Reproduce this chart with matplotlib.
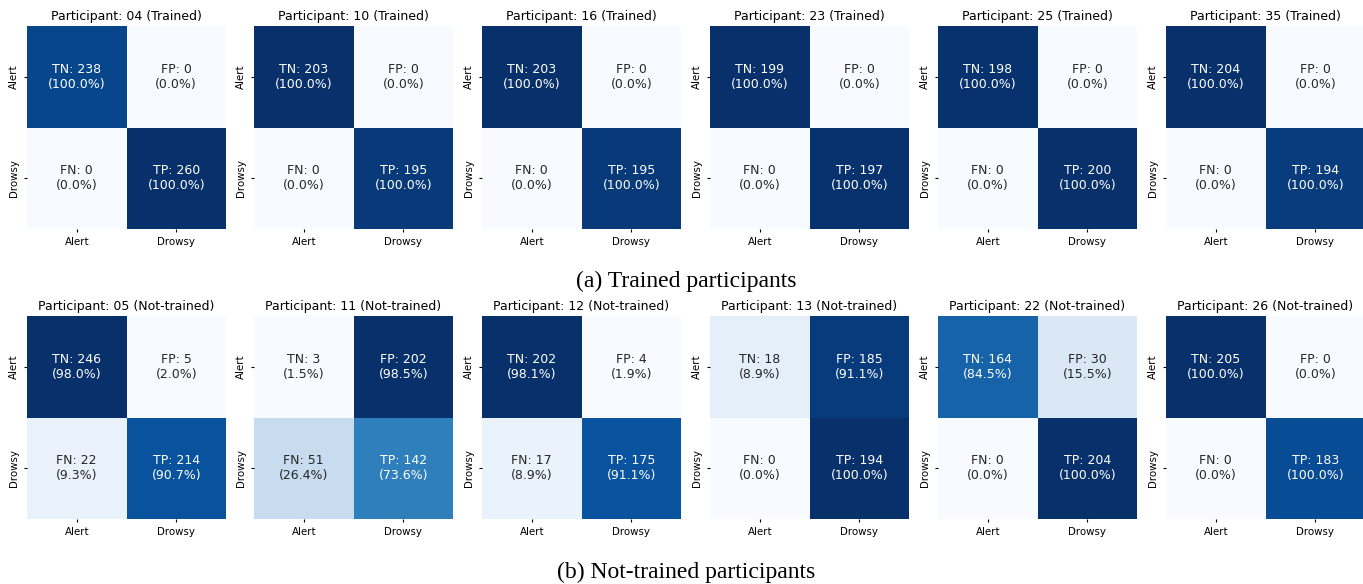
"""
Confusion matrices per participant (trained / not-trained)
"""

import numpy as np
import matplotlib
matplotlib.use("Agg")
import matplotlib.pyplot as plt
import seaborn as sns

plt.close("all")

"""
Data:
"""
labels = ["Alert", "Drowsy"]

trained_ids = ["04", "10", "16", "23", "25", "35"]
trained_tn = [238, 203, 203, 199, 198, 204]
trained_fp = [0, 0, 0, 0, 0, 0]
trained_fn = [0, 0, 0, 0, 0, 0]
trained_tp = [260, 195, 195, 197, 200, 194]

nottrained_ids = ["05", "11", "12", "13", "22", "26"]
nottrained_tn = [246, 3, 202, 18, 164, 205]
nottrained_fp = [5, 202, 4, 185, 30, 0]
nottrained_fn = [22, 51, 17, 0, 0, 0]
nottrained_tp = [214, 142, 175, 194, 204, 183]

"""
Plot:
"""
W, H = 1363, 584
fig = plt.figure(figsize=(W / 100, H / 100), dpi=100)

lefts = [27, 254, 482, 710, 938, 1166]
pw, ph = 199, 203
row_tops = [26, 316]


def draw_cm(ax, tn, fp, fn, tp, title):
    cm = np.array([[tn, fp], [fn, tp]])
    rows = cm.sum(axis=1, keepdims=True)
    pct = np.where(rows > 0, cm / np.maximum(rows, 1) * 100, 0)
    names = [["TN", "FP"], ["FN", "TP"]]
    annot = np.array([[f"{names[i][j]}: {cm[i, j]}\n({pct[i, j]:.1f}%)" for j in range(2)]
                      for i in range(2)])
    sns.heatmap(cm, annot=annot, fmt="", cmap="Blues", cbar=False, ax=ax,
                xticklabels=labels, yticklabels=labels, annot_kws={"fontsize": 9})
    ax.set_title(title, fontsize=9, pad=4)
    ax.tick_params(axis="both", labelsize=7.4, length=2.5, width=0.8, pad=3)
    plt.setp(ax.get_yticklabels(), rotation=90, va="center")
    plt.setp(ax.get_xticklabels(), rotation=0)


groups = [
    (trained_ids, trained_tn, trained_fp, trained_fn, trained_tp, "Trained"),
    (nottrained_ids, nottrained_tn, nottrained_fp, nottrained_fn, nottrained_tp, "Not-trained"),
]

for r, (ids, tn, fp, fn, tp, tag) in enumerate(groups):
    for k in range(6):
        ax = fig.add_axes([lefts[k] / W, 1 - (row_tops[r] + ph) / H, pw / W, ph / H])
        draw_cm(ax, tn[k], fp[k], fn[k], tp[k], f"Participant: {ids[k]} ({tag})")

fig.text(686.5 / W, 1 - 281 / H, "(a) Trained participants", family="Liberation Serif",
         fontsize=17, ha="center", va="center")
fig.text(686.5 / W, 1 - 572 / H, "(b) Not-trained participants", family="Liberation Serif",
         fontsize=17, ha="center", va="center")

plt.savefig("out.png", dpi=100)
